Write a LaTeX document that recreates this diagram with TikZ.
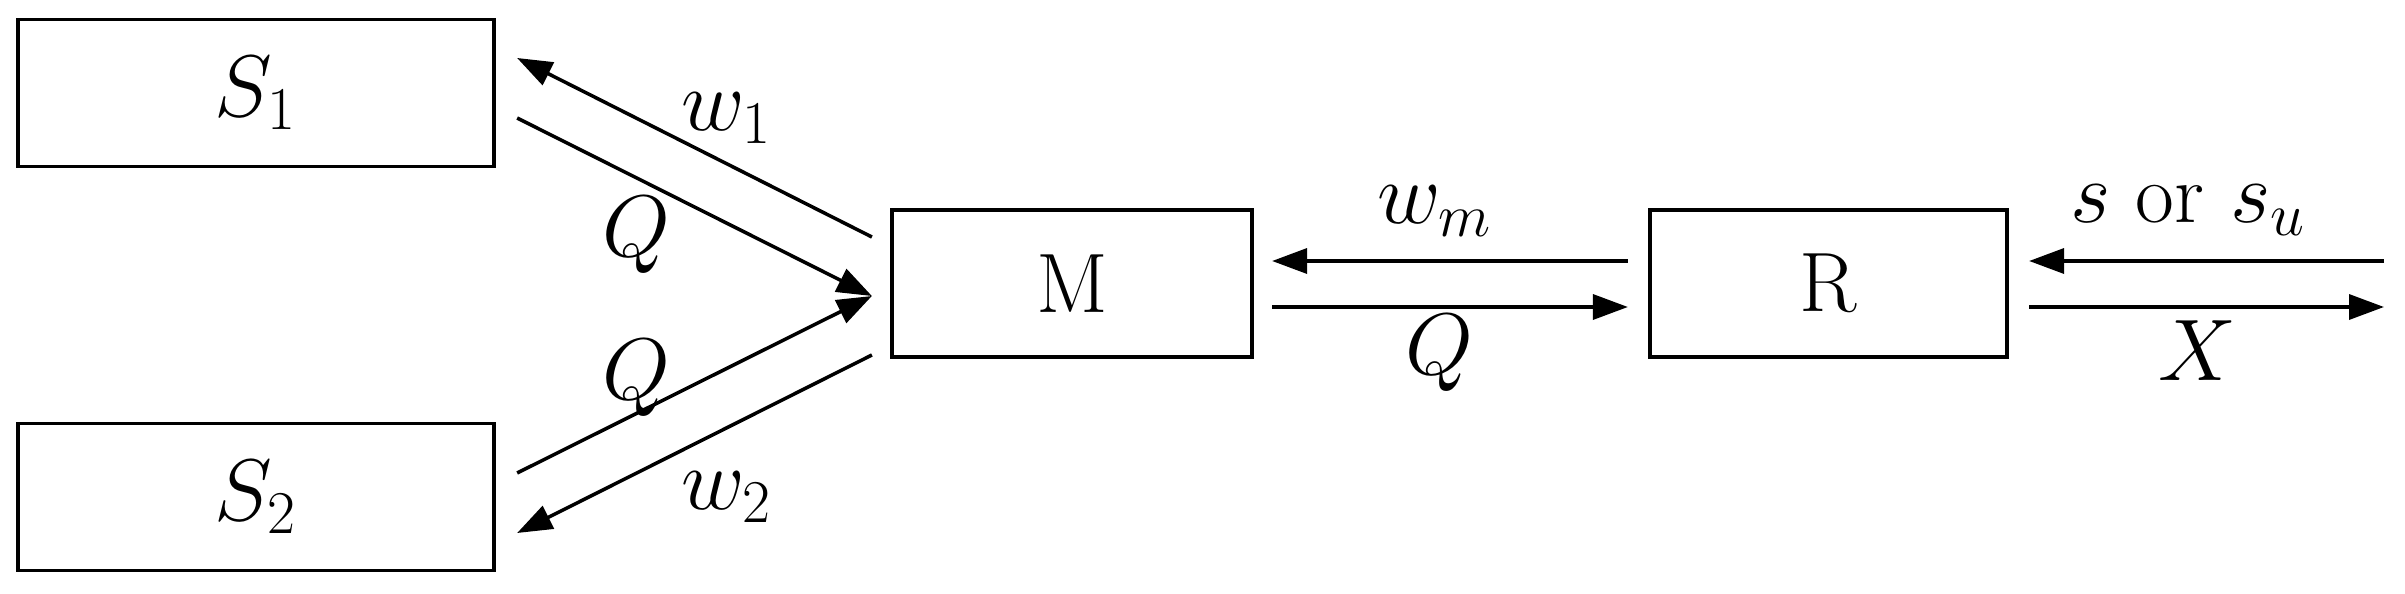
\documentclass[tikz,border=0pt]{standalone}
\usetikzlibrary{arrows.meta,calc}
\begin{document}
\begin{tikzpicture}[x=0.01cm,y=-0.01cm,
  font=\fontsize{24}{29}\selectfont,
  box/.style={draw, line width=1pt, minimum height=1.47cm, inner sep=0pt, outer sep=0pt},
  arr/.style={line width=1pt, -{Triangle[length=0.35cm,width=0.25cm]}},
  lbl/.style={inner sep=0pt}]
\useasboundingbox (0,0) rectangle (2405,594);

% boxes
\node[box, minimum width=4.76cm] (S1) at (256,93)  {$S_1$};
\node[box, minimum width=4.76cm] (S2) at (256,497) {$S_2$};
\node[box, minimum width=3.60cm] (M)  at (1072,283.5) {M};
\node[box, minimum width=3.57cm] (R)  at (1828.5,283.5) {R};

% free ends on the right
\coordinate (inR)  at (2384,261);
\coordinate (outR) at (2384,307);

% S1 <-> M
\draw[arr] ([shift={(-20,-46.5)}]M.west) -- ([shift={(23,-35)}]S1.east);
\draw[arr] ([shift={(23,25)}]S1.east) -- ([shift={(-20,12.5)}]M.west);
% S2 <-> M
\draw[arr] ([shift={(23,-24)}]S2.east) -- ([shift={(-20,12.5)}]M.west);
\draw[arr] ([shift={(-20,71.5)}]M.west) -- ([shift={(23,36)}]S2.east);
% M <-> R
\draw[arr] ([shift={(-22,-22.5)}]R.west) -- ([shift={(20,-22.5)}]M.east);
\draw[arr] ([shift={(20,23.5)}]M.east) -- ([shift={(-22,23.5)}]R.west);
% R <-> outside
\draw[arr] (inR) -- ([shift={(22,-22.5)}]R.east);
\draw[arr] ([shift={(22,23.5)}]R.east) -- (outR);

% labels
\node[lbl] (lw1) at (727,118) {$w_1$};
\node[lbl] (lq1) at (636,235) {$Q$};
\node[lbl] (lq2) at (636,378) {$Q$};
\node[lbl] (lw2) at (727,497) {$w_2$};
\node[lbl] (lwm) at (1435,211) {$w_m$};
\node[lbl] (lqm) at (1439,353) {$Q$};
\node[lbl] (lsu) at (2188,210) {$s$ or $s_u$};
\node[lbl] (lx)  at (2197,351) {$X$};
\end{tikzpicture}
\end{document}
